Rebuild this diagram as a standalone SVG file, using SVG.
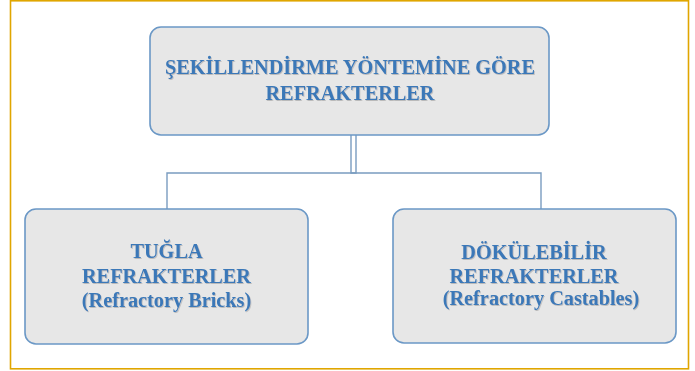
<svg xmlns="http://www.w3.org/2000/svg" width="695" height="371" viewBox="0 0 695 371">
<defs>
<style>
.node rect{fill:#e7e7e7;stroke:#6b98c6;stroke-width:1.6}
.t{font-family:"Liberation Serif","Times New Roman",serif;font-weight:bold;font-size:20.3px;fill:#3a78b8;text-anchor:middle;filter:url(#ts)}
.conn{fill:none;stroke:#7a9cc0;stroke-width:1.4}
</style>
<filter id="ts" x="-10%" y="-30%" width="120%" height="160%">
<feDropShadow dx="0.8" dy="1" stdDeviation="0.6" flood-color="#777" flood-opacity="0.4"/>
</filter>
</defs>
<rect x="10.5" y="0.8" width="678" height="368" fill="#fff" stroke="#e0a600" stroke-width="1.6"/>
<g id="connectors" class="conn">
<path d="M351 135 V173 H356 V135"/>
<path d="M167 209 V173 H541 V209"/>
</g>
<g id="root" class="node">
<rect x="150" y="27" width="399" height="108" rx="11"/>
<text class="t" x="350" y="74">ŞEKİLLENDİRME YÖNTEMİNE GÖRE</text>
<text class="t" x="350" y="100">REFRAKTERLER</text>
</g>
<g id="tugla" class="node">
<rect x="25" y="209" width="283" height="135" rx="11"/>
<text class="t" x="166.5" y="258">TUĞLA</text>
<text class="t" x="166.5" y="283">REFRAKTERLER</text>
<text class="t" x="166.5" y="307">(Refractory Bricks)</text>
</g>
<g id="dokulebilir" class="node">
<rect x="393" y="209" width="283" height="134" rx="11"/>
<text class="t" x="534" y="259">DÖKÜLEBİLİR</text>
<text class="t" x="534" y="283">REFRAKTERLER</text>
<text class="t" x="541" y="305">(Refractory Castables)</text>
</g>
</svg>
